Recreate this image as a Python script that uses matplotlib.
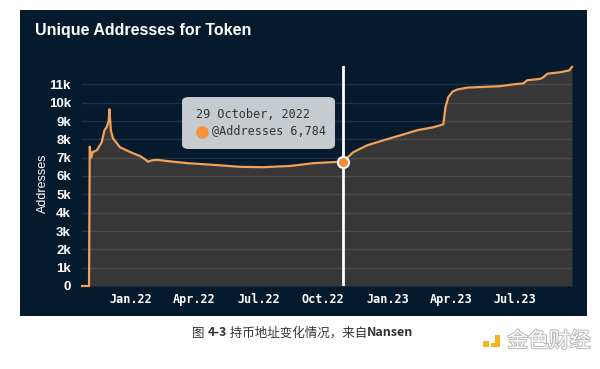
import matplotlib

matplotlib.use("Agg")
import matplotlib.patheffects as pe
import matplotlib.pyplot as plt
import numpy as np
from matplotlib.patches import FancyBboxPatch, Rectangle

dates = [
    "2021-10-23", "2021-11-02", "2021-11-03", "2021-11-05", "2021-11-07",
    "2021-11-13", "2021-11-20", "2021-11-24", "2021-11-27", "2021-11-30",
    "2021-12-01", "2021-12-03", "2021-12-06", "2021-12-16", "2021-12-31",
    "2022-01-14", "2022-01-21", "2022-01-25", "2022-01-31", "2022-02-07",
    "2022-02-25", "2022-03-22", "2022-05-01", "2022-06-05", "2022-07-08",
    "2022-08-16", "2022-09-17", "2022-10-29", "2022-11-13", "2022-12-03",
    "2022-12-26", "2023-01-19", "2023-02-12", "2023-03-07", "2023-03-21",
    "2023-03-24", "2023-03-28", "2023-04-03", "2023-04-10", "2023-04-24",
    "2023-06-10", "2023-06-29", "2023-07-13", "2023-07-18", "2023-08-06",
    "2023-08-10", "2023-08-16", "2023-09-03", "2023-09-16", "2023-09-20",
]
addresses = [
    0, 0, 7600, 7000, 7300,
    7400, 7840, 8500, 8660, 9000,
    9640, 8500, 8060, 7570, 7300,
    7080, 6900, 6780, 6860, 6880,
    6800, 6700, 6600, 6500, 6480,
    6550, 6700, 6784, 7300, 7680,
    7950, 8220, 8500, 8660, 8820,
    9750, 10300, 10600, 10720, 10820,
    10900, 11000, 11050, 11220, 11300,
    11380, 11580, 11660, 11760, 11950,
]
y_ticks = [0, 1000, 2000, 3000, 4000, 5000, 6000, 7000, 8000, 9000, 10000, 11000]
y_tick_labels = ["0", "1k", "2k", "3k", "4k", "5k", "6k", "7k", "8k", "9k", "10k", "11k"]
x_ticks = ["2022-01-01", "2022-04-01", "2022-07-01", "2022-10-01",
           "2023-01-01", "2023-04-01", "2023-07-01"]
x_tick_labels = ["Jan.22", "Apr.22", "Jul.22", "Oct.22", "Jan.23", "Apr.23", "Jul.23"]
hover_date = "2022-10-29"
hover_value = 6784
caption_parts = [("图 ", "normal"), ("4-3", "bold"),
                 (" 持币地址变化情况，来自", "normal"), ("Nansen", "bold")]

NAVY = "#061a2d"
FILL = "#373737"
LINE = "#f2a05a"
W, H = 600, 369


def fx(px):
    return px / W


def fy(py):
    return 1 - py / H


x = np.array(dates, dtype="datetime64[D]")
y = np.array(addresses)

fig = plt.figure(figsize=(6, 3.69), dpi=100, facecolor="white")
fig.patches.append(Rectangle((fx(20), fy(316)), fx(567), 306 / H,
                             transform=fig.transFigure, facecolor=NAVY,
                             edgecolor="none", zorder=-5))

ax = fig.add_axes([fx(82), fy(286), fx(490), 220 / H])
ax.set_facecolor(NAVY)
ax.fill_between(x, y, 0, color=FILL, zorder=1, linewidth=0)
ax.plot(x, y, color=LINE, lw=1.6, zorder=3, clip_on=False)
for t in y_ticks[1:]:
    ax.axhline(t, color="white", alpha=0.1, lw=1, zorder=2)

ax.set_xlim(x[0], x[-1])
ax.set_ylim(0, 12000)
ax.set_yticks(y_ticks, y_tick_labels)
ax.set_xticks(np.array(x_ticks, dtype="datetime64[D]"), x_tick_labels)
for s in ax.spines.values():
    s.set_visible(False)
ax.tick_params(length=0, colors="white")
for lab in ax.get_yticklabels():
    lab.set_fontfamily("Liberation Sans")
    lab.set_fontweight("bold")
    lab.set_fontsize(9.5)
for lab in ax.get_xticklabels():
    lab.set_fontfamily("DejaVu Sans Mono")
    lab.set_fontweight("bold")
    lab.set_fontsize(8.5)
ax.tick_params(axis="y", pad=8)
ax.tick_params(axis="x", pad=5)

hx = np.datetime64(hover_date)
ax.axvline(hx, color="white", lw=2, zorder=4)
ax.plot([hx], [hover_value], "o", ms=8, color="#f28c38", mec="white",
        mew=1.5, zorder=5, clip_on=False)

fig.text(fx(43), fy(183), "Addresses", rotation=90, color="white",
         fontsize=9, family="Liberation Sans", ha="center", va="center")
fig.text(fx(35), fy(30), "Unique Addresses for Token", color="white",
         fontsize=11.5, fontweight="bold", family="Liberation Sans",
         ha="left", va="center")

# tooltip
fig.patches.append(FancyBboxPatch((fx(182), fy(149)), fx(153), 52 / H,
                                  boxstyle="round,pad=0,rounding_size=0.012",
                                  transform=fig.transFigure,
                                  facecolor="#c6cbd0", edgecolor="none",
                                  zorder=10))
fig.text(fx(196), fy(114), "29 October, 2022", color="#333333", fontsize=8.5,
         family="DejaVu Sans Mono", ha="left", va="center", zorder=11)
fig.text(fx(212), fy(132), f"@Addresses {hover_value:,}", color="#333333",
         fontsize=8.5, family="DejaVu Sans Mono", ha="left", va="center",
         zorder=11)
fig.lines.append(plt.Line2D([fx(202)], [fy(132)], marker="o", ms=8,
                            color="#f7913c", transform=fig.transFigure,
                            zorder=11))

# caption, pieces laid out left to right
renderer = fig.canvas.get_renderer()
pieces = []
for txt, weight in caption_parts:
    t = fig.text(0, fy(333), txt, color="#333333", fontsize=9, fontweight=weight,
                 family=["Noto Sans CJK SC", "DejaVu Sans"], ha="left",
                 va="center")
    pieces.append(t)
widths = [p.get_window_extent(renderer).width for p in pieces]
cur = 303 - sum(widths) / 2
for p, w in zip(pieces, widths):
    p.set_x(fx(cur))
    cur += w

# logo
fig.patches.append(Rectangle((fx(483), fy(347)), fx(6), 6 / H,
                             transform=fig.transFigure, facecolor="#f4b31c",
                             edgecolor="none"))
fig.patches.append(Rectangle((fx(491), fy(347)), fx(9), 12 / H,
                             transform=fig.transFigure, facecolor="#f4b31c",
                             edgecolor="none"))
fig.patches.append(Rectangle((fx(491), fy(343)), fx(4), 8 / H,
                             transform=fig.transFigure, facecolor="white",
                             edgecolor="none"))
fig.text(fx(549), fy(341), "金色财经", color="white", fontsize=15,
         family=["Noto Sans CJK SC"], ha="center", va="center",
         path_effects=[pe.withStroke(linewidth=1.4, foreground="#b8b8b8")])

fig.savefig("out.png", dpi=100, facecolor="white")
